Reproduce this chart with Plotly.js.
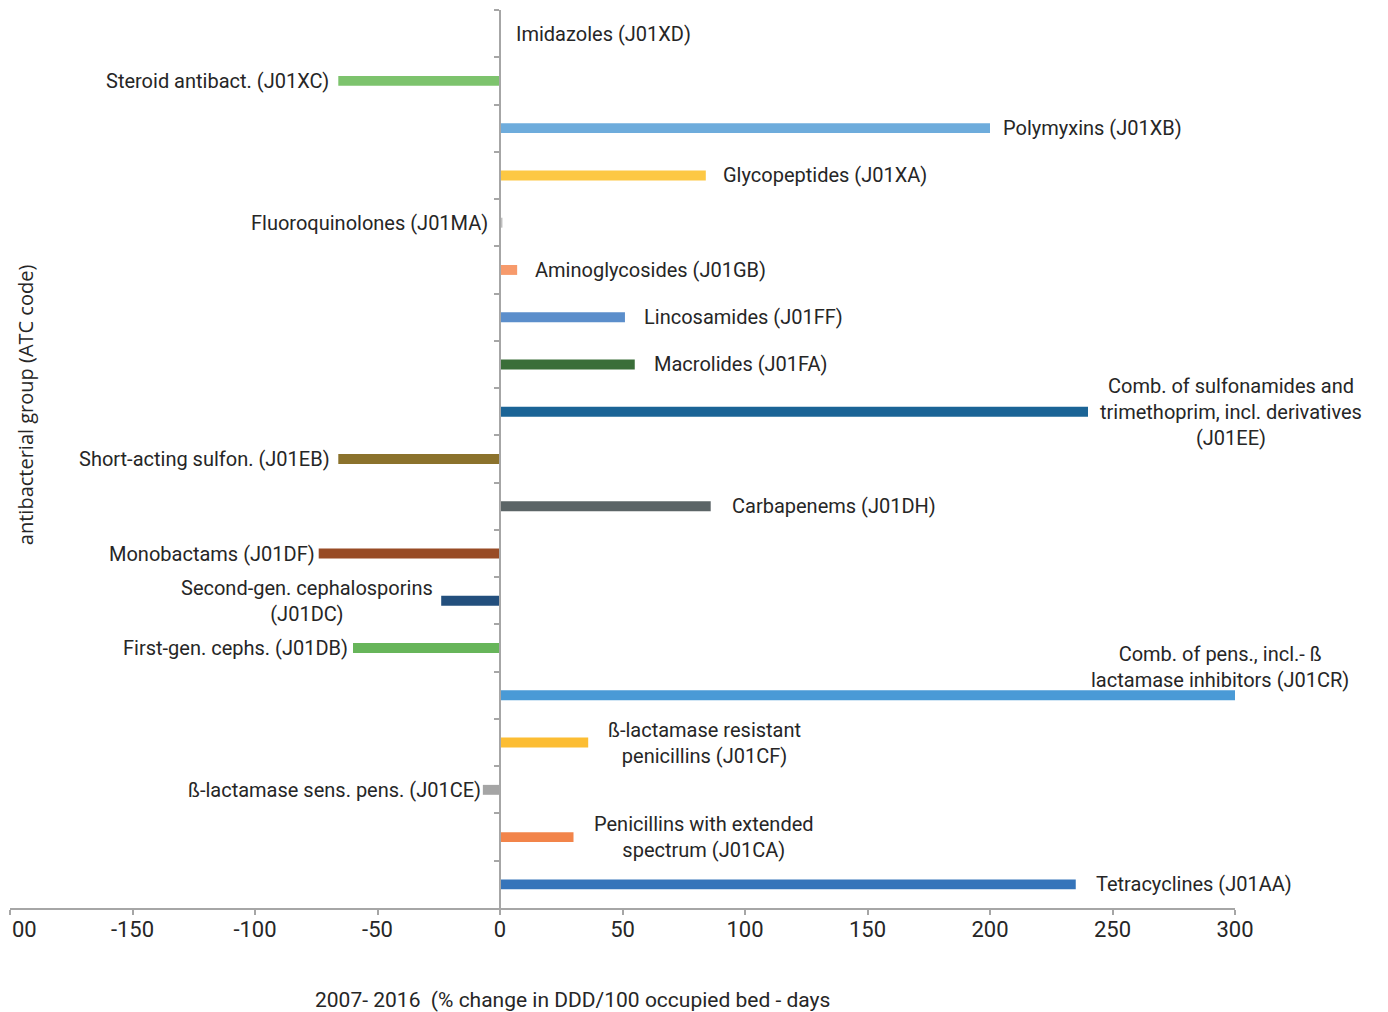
<!DOCTYPE html>
<html>
<head>
<meta charset="utf-8">
<script src="https://cdn.plot.ly/plotly-3.0.1.min.js"></script>
<style>html,body{margin:0;padding:0;background:#fff;}#chart{width:1388px;height:1012px;}</style>
</head>
<body>
<div id="chart"></div>
<script>
// Categories listed top to bottom
const categories = [
  "J01XD","J01XC","J01XB","J01XA","J01MA","J01GB","J01FF","J01FA","J01EE",
  "J01EB","J01DH","J01DF","J01DC","J01DB","J01CR","J01CF","J01CE","J01CA","J01AA"
];
const labels = [
  "Imidazoles (J01XD)",
  "Steroid antibact. (J01XC)",
  "Polymyxins (J01XB)",
  "Glycopeptides (J01XA)",
  "Fluoroquinolones (J01MA)",
  "Aminoglycosides (J01GB)",
  "Lincosamides (J01FF)",
  "Macrolides (J01FA)",
  "Comb. of sulfonamides and<br>trimethoprim, incl. derivatives<br>(J01EE)",
  "Short-acting sulfon. (J01EB)",
  "Carbapenems (J01DH)",
  "Monobactams (J01DF)",
  "Second-gen. cephalosporins<br>(J01DC)",
  "First-gen. cephs. (J01DB)",
  "Comb. of pens., incl.- ß<br>lactamase inhibitors (J01CR)",
  "ß-lactamase resistant<br>penicillins (J01CF)",
  "ß-lactamase sens. pens. (J01CE)",
  "Penicillins with extended<br>spectrum (J01CA)",
  "Tetracyclines (J01AA)"
];
const changePct = [0, -66, 200, 84, 1, 7, 51, 55, 240, -66, 86, -74, -24, -60, 300, 36, -7, 30, 235];
const barColors = [
  "#7f7f7f","#7dc36d","#6eacdc","#fdc844","#bfbfbf","#f79a6b","#5b8ecb","#3a6e39","#1b6496",
  "#8b722c","#5b6466","#984b25","#234f7d","#67b55a","#4a9ad6","#fcbd33","#a5a5a5","#f2844a","#3574ba"
];
const xTicks = [-200,-150,-100,-50,0,50,100,150,200,250,300];
const xTickText = ["","-150","-100","-50","0","50","100","150","200","250","300"];

// label placement (styling only): [xanchor, xshift, yshift]
const placement = [
  ["left", 14, 0],
  ["right", -7, 0],
  ["left", 11, 0],
  ["left", 15, 0],
  ["right", -12, 0],
  ["left", 16, 0],
  ["left", 17, 0],
  ["left", 17, 0],
  ["left", 10, 0],
  ["right", -6, 0],
  ["left", 19, 0],
  ["right", -2, 0],
  ["right", -6, 0],
  ["right", -3, 0],
  ["center", -15, 28],
  ["left", 18, 0],
  ["right", 0, 0],
  ["left", 18, 0],
  ["left", 18, 0]
];

const FONT = "Roboto, 'DejaVu Sans', sans-serif";
const annotations = labels.map((t, i) => ({
  x: changePct[i], y: categories[i], xref: "x", yref: "y",
  text: t, showarrow: false,
  xanchor: placement[i][0], yanchor: "middle",
  xshift: placement[i][1], yshift: placement[i][2],
  align: "center",
  font: {family: FONT, size: 20, color: "#262626"}
}));
annotations.push({
  xref: "paper", yref: "paper", x: 0.0122, y: 0.561, textangle: -90,
  text: "antibacterial group (ATC code)", showarrow: false,
  xanchor: "center", yanchor: "middle",
  font: {family: "'Open Sans', sans-serif", size: 20, color: "#262626"}
});
annotations.push({
  xref: "paper", yref: "paper", x: 0.459, y: -0.102,
  text: "2007- 2016  (% change in DDD/100 occupied bed - days", showarrow: false,
  xanchor: "center", yanchor: "middle",
  font: {family: FONT, size: 21, color: "#262626"}
});
// visible remainder of the leftmost (-200) tick label, clipped at the chart edge
annotations.push({
  xref: "x", yref: "paper", x: xTicks[0], y: 0, yshift: -21,
  text: "00", showarrow: false, xanchor: "left", yanchor: "middle",
  font: {family: FONT, size: 22, color: "#262626"}
});

const trace = {
  type: "bar", orientation: "h",
  x: changePct, y: categories,
  marker: {color: barColors, line: {width: 0}},
  hoverinfo: "x+y"
};

const layout = {
  width: 1388, height: 1012,
  margin: {l: 10, r: 153, t: 10, b: 104},
  paper_bgcolor: "#fff", plot_bgcolor: "#fff",
  showlegend: false,
  bargap: 0.79,
  xaxis: {
    range: [-200, 300], tickvals: xTicks, ticktext: xTickText,
    showgrid: false, zeroline: false,
    showline: true, linecolor: "#a6a6a6", linewidth: 2,
    ticks: "outside", ticklen: 5, tickcolor: "#a6a6a6", tickwidth: 2,
    ticklabeloverflow: "allow", ticklabelstandoff: -4,
    tickfont: {family: FONT, size: 22, color: "#262626"}
  },
  yaxis: {
    type: "category", categoryorder: "array", categoryarray: categories,
    autorange: "reversed",
    anchor: "free", position: 0.4,
    showline: true, linecolor: "#a6a6a6", linewidth: 2,
    ticks: "outside", tickson: "boundaries", ticklen: 5, tickcolor: "#a6a6a6", tickwidth: 2,
    showticklabels: false, showgrid: false, zeroline: false
  },
  annotations: annotations
};

Plotly.newPlot("chart", [trace], layout, {displayModeBar: false, staticPlot: true});
</script>
</body>
</html>
